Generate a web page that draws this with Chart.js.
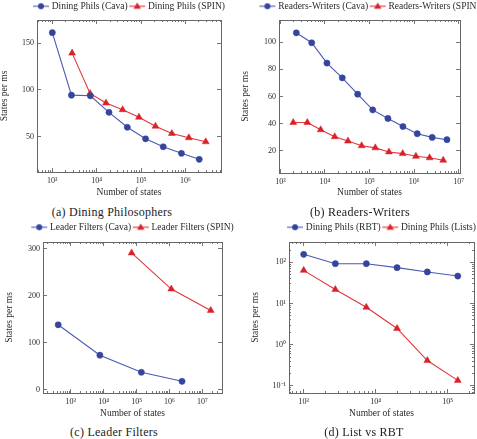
<!DOCTYPE html>
<html><head><meta charset="utf-8">
<script src="https://cdn.jsdelivr.net/npm/chart.js@4.4.1/dist/chart.umd.min.js"></script>
<style>
html,body{margin:0;padding:0;background:#fff;width:477px;height:439px;overflow:hidden;position:relative;}
canvas{position:absolute;}
.cap{position:absolute;width:200px;text-align:center;font-family:'Liberation Serif',serif;font-size:12px;letter-spacing:0.25px;color:#222;line-height:14px;white-space:nowrap;}
</style></head><body>
<canvas id="ca"></canvas>
<canvas id="cb"></canvas>
<canvas id="cc"></canvas>
<canvas id="cd"></canvas>
<div class="cap" style="left:12px;top:205px;">(a) Dining Philosophers</div>
<div class="cap" style="left:260px;top:205px;">(b) Readers-Writers</div>
<div class="cap" style="left:14px;top:425px;">(c) Leader Filters</div>
<div class="cap" style="left:264px;top:425px;">(d) List vs RBT</div>
<script>
// ---------- data ----------
const diningCavaStates = [1000, 2700, 7200, 18900, 48900, 126000, 315000, 811000, 2040000];
const diningCavaRate   = [161.3, 94.3, 93.6, 75.9, 59.9, 47.5, 39.0, 31.9, 25.5];
const diningSpinStates = [2790, 7080, 16200, 38300, 89500, 211000, 493000, 1190000, 2860000];
const diningSpinRate   = [139.4, 96.1, 85.8, 78.7, 70.6, 61.0, 53.2, 48.6, 44.3];

const rwCavaStates = [2280, 5050, 11100, 24500, 54300, 118000, 259000, 562000, 1178000, 2550000, 5460000];
const rwCavaRate   = [106.8, 99.5, 84.6, 73.7, 61.7, 50.2, 43.9, 38.0, 32.7, 30.0, 28.3];
const rwSpinStates = [1950, 4030, 8040, 16600, 32900, 66700, 135000, 273000, 555000, 1100000, 2230000, 4510000];
const rwSpinRate   = [40.9, 40.9, 35.6, 30.5, 27.3, 23.9, 22.3, 19.3, 18.1, 16.1, 15.0, 13.2];

const leaderCavaStates = [413, 7670, 140000, 2420000];
const leaderCavaRate   = [138.3, 73.8, 37.6, 18.4];
const leaderSpinStates = [70800, 1140000, 18100000];
const leaderSpinRate   = [290.8, 214.2, 168.8];

const listStates = [1000, 2750, 7410, 19800, 52100, 138000];
const rbtRate    = [157, 93, 93, 74.5, 58.5, 46.6];
const listsRate  = [64, 22, 8.1, 2.47, 0.41, 0.135];

// ---------- tick labels ----------
const ticksA_x = [1e3, 1e4, 1e5, 1e6];           const labelsA_x = ['10³', '10⁴', '10⁵', '10⁶'];
const ticksA_y = [50, 100, 150];                  const labelsA_y = ['50', '100', '150'];
const ticksB_x = [1e3, 1e4, 1e5, 1e6, 1e7];      const labelsB_x = ['10³', '10⁴', '10⁵', '10⁶', '10⁷'];
const ticksB_y = [20, 40, 60, 80, 100];           const labelsB_y = ['20', '40', '60', '80', '100'];
const ticksC_x = [1e3, 1e4, 1e5, 1e6, 1e7];      const labelsC_x = ['10³', '10⁴', '10⁵', '10⁶', '10⁷'];
const ticksC_y = [0, 100, 200, 300];              const labelsC_y = ['0', '100', '200', '300'];
const ticksD_x = [1e3, 1e4, 1e5];                 const labelsD_x = ['10³', '10⁴', '10⁵'];
const ticksD_y = [0.1, 1, 10, 100];               const labelsD_y = ['10⁻¹', '10⁰', '10¹', '10²'];

// ---------- style ----------
const FONT = "'Liberation Serif', 'Times New Roman', serif";
const TEXT = '#2a2a2a';
const FRAME = '#666';
const BLUE_LINE = '#4a5ab5', BLUE_PT = '#35459e';
const RED_LINE = '#e4343c', RED_PT = '#d8222a';
Chart.defaults.font.family = FONT;
Chart.defaults.color = TEXT;

function legendIcon(kind) {
  const c = document.createElement('canvas');
  c.width = 20; c.height = 10;
  const g = c.getContext('2d');
  g.strokeStyle = kind === 'blue' ? BLUE_LINE : RED_LINE;
  g.fillStyle = kind === 'blue' ? BLUE_PT : RED_PT;
  g.lineWidth = 1.1;
  g.beginPath(); g.moveTo(3, 5); g.lineTo(19, 5); g.stroke();
  g.beginPath();
  if (kind === 'blue') { g.arc(11, 5, 3, 0, Math.PI * 2); }
  else { g.moveTo(11, 1.2); g.lineTo(14.7, 7.6); g.lineTo(7.3, 7.6); g.closePath(); }
  g.fill();
  return c;
}

// minor tick positions (2..9 x 10^n) inside a log range
function minorValues(min, max) {
  const out = [];
  const e0 = Math.floor(Math.log10(min)), e1 = Math.ceil(Math.log10(max));
  for (let e = e0; e <= e1; e++) for (let k = 2; k <= 9; k++) {
    const v = k * Math.pow(10, e);
    if (v > min && v < max) out.push(v);
  }
  return out;
}

// zero-size axis that only draws inward tick marks (and optionally the frame side)
function markScale(o) {
  return {
    type: o.type, position: o.position, min: o.min, max: o.max, display: true, weight: o.weight,
    grid: { display: true, drawOnChartArea: false, drawTicks: true, tickLength: -o.len,
            tickColor: FRAME, tickWidth: 0.9 },
    border: { display: o.border, color: FRAME, width: 1 },
    ticks: { display: false, autoSkip: false },
    title: { display: false },
    afterBuildTicks: s => { s.ticks = o.values.map(v => ({ value: v })); },
    afterFit: s => { if (s.isHorizontal()) { s.height = 0; } else { s.width = 0; } }
  };
}

function series(label, xv, yv, kind) {
  const blue = kind === 'blue';
  return {
    label,
    data: xv.map((x, i) => ({ x, y: yv[i] })),
    borderColor: blue ? BLUE_LINE : RED_LINE,
    backgroundColor: blue ? BLUE_PT : RED_PT,
    pointBackgroundColor: blue ? BLUE_PT : RED_PT,
    pointBorderColor: blue ? BLUE_PT : RED_PT,
    pointBorderWidth: 0.5,
    pointStyle: blue ? 'circle' : 'triangle',
    pointRadius: blue ? 3.1 : 4,
    borderWidth: 1.1,
    tension: 0,
    clip: false
  };
}

function buildScales(p) {
  const titleFont = { family: FONT, size: 9.5, lineHeight: 1.2 };
  const tickFont = { family: FONT, size: 8 };
  const xMinor = minorValues(p.xMin, p.xMax);
  const sc = {
    x: {
      type: 'logarithmic', position: 'bottom', min: p.xMin, max: p.xMax, weight: 0,
      grid: { display: true, drawOnChartArea: false, drawTicks: true, tickLength: -4, tickColor: FRAME, tickWidth: 0.9 },
      border: { display: true, color: FRAME, width: 1 },
      ticks: { autoSkip: false, maxRotation: 0, padding: 8, font: tickFont, color: TEXT,
               callback: (v, i) => p.xLabels[i] },
      afterBuildTicks: s => { s.ticks = p.xTicks.map(v => ({ value: v })); },
      afterFit: s => { s.height = p.xH; },
      title: { display: true, text: 'Number of states', font: titleFont, color: TEXT, padding: 0 }
    },
    xm:  markScale({ type: 'logarithmic', position: 'bottom', min: p.xMin, max: p.xMax, values: xMinor, len: 2, weight: -1, border: false }),
    xt:  markScale({ type: 'logarithmic', position: 'top', min: p.xMin, max: p.xMax, values: p.xTicks, len: 4, weight: 0, border: true }),
    xtm: markScale({ type: 'logarithmic', position: 'top', min: p.xMin, max: p.xMax, values: xMinor, len: 2, weight: -1, border: false }),
    y: {
      type: p.yType, position: 'left', min: p.yMin, max: p.yMax, weight: 0,
      grid: { display: true, drawOnChartArea: false, drawTicks: true, tickLength: -4, tickColor: FRAME, tickWidth: 0.9 },
      border: { display: true, color: FRAME, width: 1 },
      ticks: { autoSkip: false, padding: 7, font: tickFont, color: TEXT,
               callback: (v, i) => p.yLabels[i] },
      afterBuildTicks: s => { s.ticks = p.yTicks.map(v => ({ value: v })); },
      afterFit: s => { s.width = p.yW; },
      title: { display: true, text: 'States per ms', font: titleFont, color: TEXT, padding: 0 }
    },
    yr: markScale({ type: p.yType, position: 'right', min: p.yMin, max: p.yMax, values: p.yTicks, len: 4, weight: 0, border: true }),
    pad: {
      type: 'linear', position: 'right', display: true, weight: 10,
      grid: { display: false, drawTicks: false }, border: { display: false },
      ticks: { display: false }, title: { display: false },
      afterFit: s => { s.width = p.yW; }
    }
  };
  if (p.yType === 'logarithmic') {
    const yMinor = minorValues(p.yMin, p.yMax);
    sc.ym  = markScale({ type: p.yType, position: 'left', min: p.yMin, max: p.yMax, values: yMinor, len: 2, weight: -1, border: false });
    sc.yrm = markScale({ type: p.yType, position: 'right', min: p.yMin, max: p.yMax, values: yMinor, len: 2, weight: -1, border: false });
  }
  return sc;
}

function makePanel(p) {
  const cv = document.getElementById(p.id);
  cv.width = p.w; cv.height = p.h;
  cv.style.left = p.left + 'px'; cv.style.top = p.top + 'px';
  cv.style.width = p.w + 'px'; cv.style.height = p.h + 'px';
  const kinds = p.kinds;
  const icons = { blue: legendIcon('blue'), red: legendIcon('red') };
  new Chart(cv, {
    type: 'line',
    data: { datasets: p.datasets },
    options: {
      responsive: false, animation: false, devicePixelRatio: 1,
      layout: { padding: 0 },
      plugins: {
        tooltip: { enabled: false },
        legend: {
          display: true, position: 'top', align: 'center', maxHeight: p.legendH,
          labels: {
            usePointStyle: true, pointStyleWidth: 14, padding: 1.5,
            font: { family: FONT, size: 9.5 }, color: TEXT,
            generateLabels(chart) {
              const items = Chart.defaults.plugins.legend.labels.generateLabels(chart);
              items.forEach(it => { it.pointStyle = icons[kinds[it.datasetIndex]]; });
              return items;
            }
          }
        }
      },
      scales: buildScales(p)
    }
  });
}

makePanel({
  id: 'ca', left: -1, top: 0, w: 260, h: 198, yW: 38, xH: 26, legendH: 20,
  xMin: Math.pow(10, 2.655), xMax: Math.pow(10, 6.8), xTicks: ticksA_x, xLabels: labelsA_x,
  yType: 'linear', yMin: 11.9, yMax: 174.9, yTicks: ticksA_y, yLabels: labelsA_y,
  kinds: ['blue', 'red'],
  datasets: [
    series('Dining Phils (Cava)', diningCavaStates, diningCavaRate, 'blue'),
    series('Dining Phils (SPIN)', diningSpinStates, diningSpinRate, 'red')
  ]
});
makePanel({
  id: 'cb', left: 240, top: 0, w: 259, h: 198, yW: 39, xH: 25, legendH: 20,
  xMin: Math.pow(10, 2.97), xMax: Math.pow(10, 7.03), xTicks: ticksB_x, xLabels: labelsB_x,
  yType: 'linear', yMin: 3.84, yMax: 116.2, yTicks: ticksB_y, yLabels: labelsB_y,
  kinds: ['blue', 'red'],
  datasets: [
    series('Readers-Writers (Cava)', rwCavaStates, rwCavaRate, 'blue'),
    series('Readers-Writers (SPIN)', rwSpinStates, rwSpinRate, 'red')
  ]
});
makePanel({
  id: 'cc', left: 4, top: 221, w: 257, h: 198, yW: 39, xH: 26, legendH: 21,
  xMin: Math.pow(10, 2.154), xMax: Math.pow(10, 7.6), xTicks: ticksC_x, xLabels: labelsC_x,
  yType: 'linear', yMin: -6.4, yMax: 314, yTicks: ticksC_y, yLabels: labelsC_y,
  kinds: ['blue', 'red'],
  datasets: [
    series('Leader Filters (Cava)', leaderCavaStates, leaderCavaRate, 'blue'),
    series('Leader Filters (SPIN)', leaderSpinStates, leaderSpinRate, 'red')
  ]
});
makePanel({
  id: 'cd', left: 250, top: 221, w: 263, h: 198, yW: 39, xH: 26, legendH: 21,
  xMin: Math.pow(10, 2.796), xMax: Math.pow(10, 5.365), xTicks: ticksD_x, xLabels: labelsD_x,
  yType: 'logarithmic', yMin: Math.pow(10, -1.176), yMax: Math.pow(10, 2.496), yTicks: ticksD_y, yLabels: labelsD_y,
  kinds: ['blue', 'red'],
  datasets: [
    series('Dining Phils (RBT)', listStates, rbtRate, 'blue'),
    series('Dining Phils (Lists)', listStates, listsRate, 'red')
  ]
});
</script>
</body></html>
